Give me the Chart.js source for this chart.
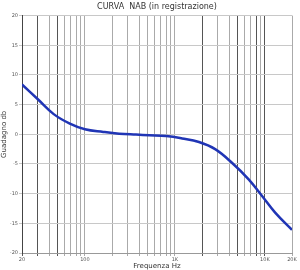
<!DOCTYPE html>
<html lang="it">
<head>
<meta charset="UTF-8">
<title>Curva NAB</title>
<style>
  html, body { margin: 0; padding: 0; background: #fff; }
  #wrap { width: 300px; height: 270px; }
</style>
<script src="https://cdn.jsdelivr.net/npm/chart.js"></script>
</head>
<body>
<div id="wrap"><canvas id="nab" width="300" height="270"></canvas></div>
<script>
// valori
const freqs = [20, 30, 45, 68, 100, 160, 240, 370, 520, 800, 1200, 1850, 2800, 4300, 6600, 9300, 13000, 20000];
const gain = [8.4, 5.9, 3.4, 1.8, 0.85, 0.4, 0.1, -0.05, -0.15, -0.3, -0.7, -1.3, -2.5, -4.8, -7.6, -10.4, -13.2, -16.1];

const gridFreqs = [20, 30, 40, 50, 60, 70, 80, 90, 100, 200, 300, 400, 500, 600, 700, 800, 900,
  1000, 2000, 3000, 4000, 5000, 6000, 7000, 8000, 9000, 10000, 20000];
const freqLabels = { 20: '20', 100: '100', 1000: '1K', 10000: '10K', 20000: '20K' };
const darkLines = [20, 30, 50, 2000, 5000, 8000, 10000];
const gainTicks = [20, 15, 10, 5, 0, -5, -10, -15, -20];

const tickFont = { family: 'DejaVu Sans', size: 5 };

new Chart(document.getElementById('nab'), {
  type: 'line',
  data: {
    datasets: [{
      data: freqs.map((f, i) => ({ x: f, y: gain[i] })),
      borderColor: '#2035b5',
      borderWidth: 2.5,
      pointRadius: 0,
      tension: 0.4,
      fill: false
    }]
  },
  options: {
    responsive: false,
    animation: false,
    layout: { padding: { top: 2, right: 8, left: 0, bottom: 0 } },
    plugins: {
      legend: { display: false },
      tooltip: { enabled: false },
      title: {
        display: true,
        fullSize: false,
        text: 'CURVA  NAB (in registrazione)',
        color: '#333',
        font: { family: 'DejaVu Sans', size: 8, weight: 'normal' },
        padding: { top: 0, bottom: 4 }
      }
    },
    scales: {
      x: {
        type: 'logarithmic',
        min: 20,
        max: 20000,
        afterBuildTicks: s => { s.ticks = gridFreqs.map(v => ({ value: v })); },
        afterFit: s => { s.height = 17; },
        ticks: {
          autoSkip: false,
          maxRotation: 0,
          color: '#555',
          font: tickFont,
          padding: 1,
          callback: v => freqLabels[v] || ''
        },
        grid: {
          color: c => darkLines.includes(c.tick && c.tick.value) ? '#555' : '#aaa',
          lineWidth: 1,
          tickLength: 3
        },
        border: { color: '#999' },
        title: {
          display: true,
          text: 'Frequenza Hz',
          color: '#333',
          font: { family: 'DejaVu Sans', size: 7 },
          padding: { top: 0, bottom: 0 }
        }
      },
      y: {
        min: -20,
        max: 20,
        afterBuildTicks: s => { s.ticks = gainTicks.map(v => ({ value: v })); },
        afterFit: s => { s.width = 22; },
        ticks: {
          color: '#555',
          font: tickFont,
          padding: 1
        },
        grid: { color: '#c8c8c8', lineWidth: 1, tickLength: 3 },
        border: { color: '#444' },
        title: {
          display: true,
          text: 'Guadagno db',
          color: '#333',
          font: { family: 'DejaVu Sans', size: 7 },
          padding: 0
        }
      }
    }
  }
});
</script>
</body>
</html>
